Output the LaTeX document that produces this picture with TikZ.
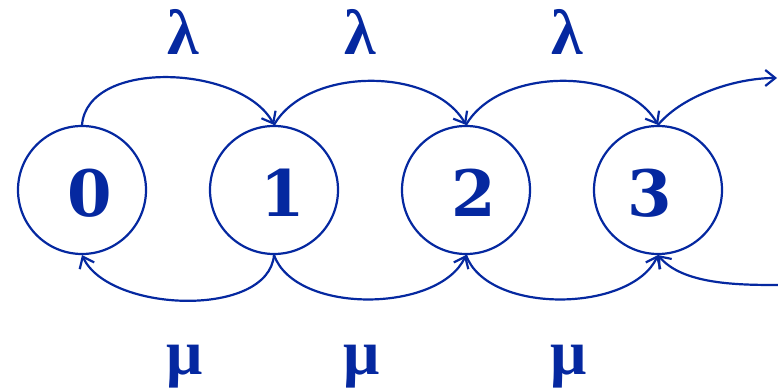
\documentclass[tikz,border=0pt]{standalone}
\usepackage{fontspec}
\setmainfont{DejaVu Serif}
\newfontfamily\greekfont{Liberation Serif}
\usetikzlibrary{arrows.meta}
\definecolor{mc}{RGB}{5,40,160}
\begin{document}
\begin{tikzpicture}[x=1pt,y=1pt,
  state/.style={draw=mc,line width=2.2pt,circle,minimum size=128pt,inner sep=0pt},
  num/.style={text=mc,font=\bfseries\fontsize{64}{64}\selectfont,inner sep=0pt},
  lab/.style={text=mc,font=\greekfont\bfseries\fontsize{64}{64}\selectfont,inner sep=0pt},
  edge/.style={draw=mc,line width=2.2pt,-{Straight Barb[length=10pt,width=16pt,line width=2.2pt]}}]
\useasboundingbox (0,0) rectangle (778,390);
\node[state] (n0) at (82,200) {};
\node[state] (n1) at (274,200) {};
\node[state] (n2) at (466,200) {};
\node[state] (n3) at (658,200) {};
\node[num] (t0) at (90,197) {0};
\node[num] (t1) at (283,197) {1};
\node[num] (t2) at (474,197) {2};
\node[num] (t3) at (650,197) {3};
\node[lab,anchor=base] (l1) at (183,335) {λ};
\node[lab,anchor=base] (l2) at (360,335) {λ};
\node[lab,anchor=base] (l3) at (567,335) {λ};
\node[lab,anchor=base] (m1) at (185,15) {μ};
\node[lab,anchor=base] (m2) at (362,15) {μ};
\node[lab,anchor=base] (m3) at (569,15) {μ};
\coordinate (outR) at (777,312);
\coordinate (inR) at (778,105);
% top arcs
\draw[edge] (n0.north) to[out=85,in=118,looseness=0.9] (n1.north);
\draw[edge] (n1.north) to[out=60,in=120,looseness=0.9] (n2.north);
\draw[edge] (n2.north) to[out=60,in=120,looseness=0.9] (n3.north);
\draw[edge] (n3.north) to[out=50,in=180,looseness=0.8] (outR);
% bottom arcs
\draw[edge] (n1.south) to[out=-95,in=-65,looseness=0.85] (n0.south);
\draw[edge] (n1.south) to[out=-70,in=-115,looseness=0.85] (n2.south);
\draw[edge] (n2.south) to[out=-70,in=-115,looseness=0.85] (n3.south);
\draw[edge] (inR) to[out=180,in=-50,looseness=0.8] (n3.south);
\end{tikzpicture}
\end{document}
